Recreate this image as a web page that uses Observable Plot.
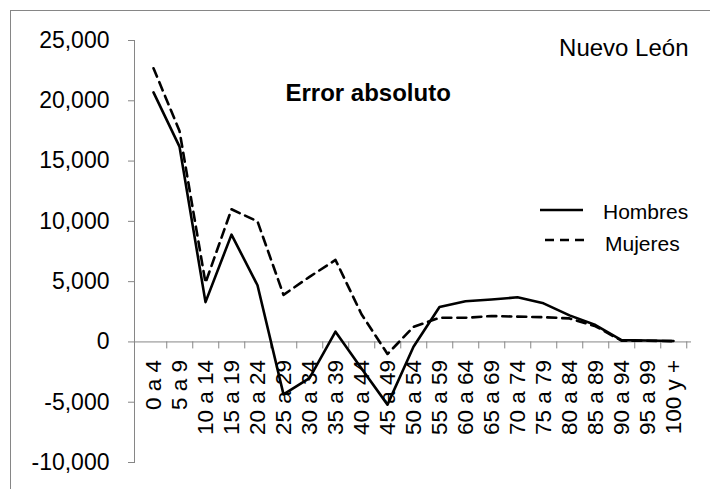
<!DOCTYPE html>
<html><head><meta charset="utf-8">
<script src="https://cdn.jsdelivr.net/npm/d3@7"></script>
<script src="https://cdn.jsdelivr.net/npm/@observablehq/plot@0.6"></script>
<style>
body{margin:0;background:#fff;}
#wrap{position:relative;width:710px;height:489px;overflow:hidden;background:#fff;font-family:"Liberation Sans",Arial,sans-serif;}
#border{position:absolute;left:10px;top:10px;width:740px;height:540px;border:1px solid #868686;box-sizing:border-box;}
#wrap svg{position:absolute;left:0;top:0;}
</style></head><body>
<div id="wrap"><div id="border"></div></div>
<script>
const categories = ["0 a 4","5 a 9","10 a 14","15 a 19","20 a 24","25 a 29","30 a 34","35 a 39","40 a 44","45 a 49","50 a 54","55 a 59","60 a 64","65 a 69","70 a 74","75 a 79","80 a 84","85 a 89","90 a 94","95 a 99","100 y +"];
const hombres = [20700, 16200, 3300, 8900, 4700, -4350, -3000, 850, -2200, -5200, -400, 2900, 3380, 3520, 3700, 3200, 2200, 1400, 150, 120, 80];
const mujeres = [22700, 17500, 4900, 11000, 10000, 3900, 5400, 6800, 2300, -1000, 1250, 2000, 2000, 2150, 2100, 2050, 1950, 1300, 100, 100, 60];
const seriesNames = ["Hombres", "Mujeres"];
const chartTitle = "Error absoluto";
const regionLabel = "Nuevo León";
const yTicks = [-10000, -5000, 0, 5000, 10000, 15000, 20000, 25000];
const yDomain = [-10000, 25000];

const data = categories.flatMap((c, i) => [
  {age: c, serie: seriesNames[0], value: hombres[i]},
  {age: c, serie: seriesNames[1], value: mujeres[i]}
]);

const W = 710, H = 489, mL = 134, mR = 19, mT = 40, mB = 27;
const step = (W - mL - mR) / categories.length;
const tickLen = 7; // px
const tickDepth = tickLen * (yDomain[1] - yDomain[0]) / (H - mT - mB);
const fmt = d => d.toLocaleString("en-US");
const axisGray = "#868686";

const plot = Plot.plot({
  width: W, height: H, marginLeft: mL, marginRight: mR, marginTop: mT, marginBottom: mB,
  style: {fontFamily: '"Liberation Sans", Arial, sans-serif', fontSize: "23px", color: "#000", background: "transparent", overflow: "visible"},
  x: {type: "point", domain: categories, padding: 0.5, axis: null},
  y: {domain: yDomain, axis: null},
  marks: [
    Plot.frame({anchor: "left", stroke: axisGray}),
    Plot.axisY({ticks: yTicks, tickSize: 6, tickPadding: 19, stroke: axisGray, tickFormat: fmt, label: null}),
    Plot.ruleY([0], {stroke: axisGray}),
    Plot.ruleX(categories, {x: d => d, y1: () => 0, y2: () => -tickDepth, dx: step / 2, stroke: axisGray, strokeWidth: 1}),
    Plot.text(categories, {x: d => d, y: () => 0, text: d => d, rotate: -90, textAnchor: "end", lineAnchor: "middle", dy: 18, fontSize: 22.5}),
    Plot.line(data, {filter: d => d.serie === seriesNames[0], x: "age", y: "value", stroke: "#000", strokeWidth: 2.6, strokeLinejoin: "round"}),
    Plot.line(data, {filter: d => d.serie === seriesNames[1], x: "age", y: "value", stroke: "#000", strokeWidth: 2.6, strokeDasharray: "9,6", strokeLinejoin: "round"}),
    Plot.text([chartTitle], {frameAnchor: "top-left", dx: 151, dy: 60, text: d => d, fontWeight: "bold", fontSize: 24, textAnchor: "start", lineAnchor: "bottom"}),
    Plot.text([regionLabel], {frameAnchor: "top-right", dx: -3, dy: 15, text: d => d, fontSize: 24, textAnchor: "end", lineAnchor: "bottom"})
  ]
});
document.getElementById("wrap").appendChild(plot);

// legend overlay
const leg = d3.select("#wrap").append("svg").attr("width", W).attr("height", H)
  .style("pointer-events", "none");
const legItems = [
  {name: seriesNames[0], x1: 540, x2: 583, y: 210, tx: 603, ty: 219, dash: null},
  {name: seriesNames[1], x1: 545, x2: 587, y: 240, tx: 605, ty: 251, dash: "9,6"}
];
for (const it of legItems) {
  leg.append("line").attr("x1", it.x1).attr("x2", it.x2).attr("y1", it.y).attr("y2", it.y)
    .attr("stroke", "#000").attr("stroke-width", 2.6).attr("stroke-dasharray", it.dash);
  leg.append("text").attr("x", it.tx).attr("y", it.ty).attr("font-size", 21)
    .attr("font-family", '"Liberation Sans", Arial, sans-serif').attr("fill", "#000").text(it.name);
}
</script>
</body></html>
